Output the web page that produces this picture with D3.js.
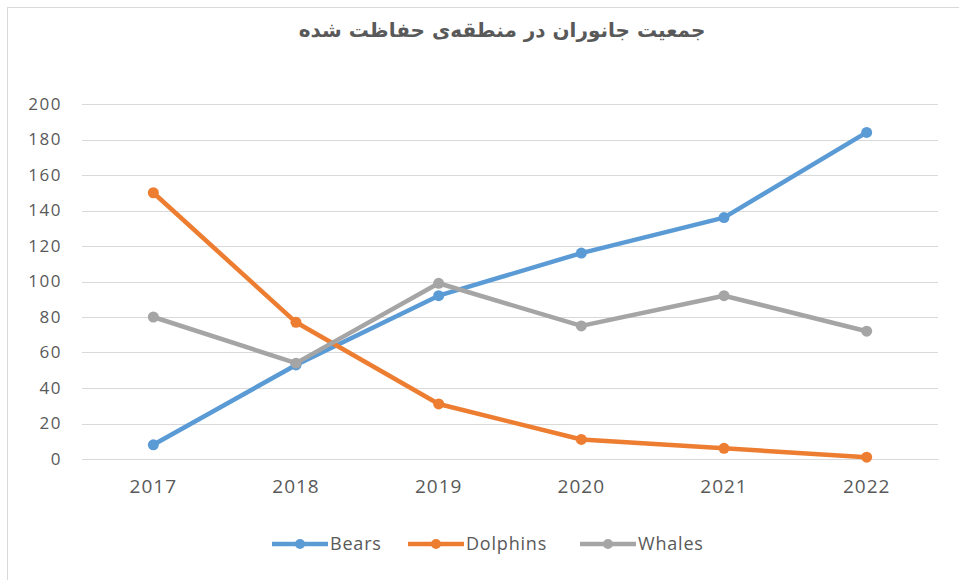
<!DOCTYPE html>
<html>
<head>
<meta charset="utf-8">
<script src="https://cdn.jsdelivr.net/npm/d3@7/dist/d3.min.js"></script>
<style>
  html, body { margin: 0; padding: 0; background: #fff; }
  svg text { font-family: "Open Sans", "Noto Sans", sans-serif; fill: #595959; }
</style>
</head>
<body>
<div id="chart"></div>
<script>
// line chart — animal population in the protected area

var years = ['2017', '2018', '2019', '2020', '2021', '2022'];
var bears = [8, 53, 92, 116, 136, 184];
var dolphins = [150, 77, 31, 11, 6, 1];
var whales = [80, 54, 99, 75, 92, 72];
var yTicks = [0, 20, 40, 60, 80, 100, 120, 140, 160, 180, 200];

var SERIES = [
  { name: 'Bears', values: bears, color: '#5B9BD5' },
  { name: 'Dolphins', values: dolphins, color: '#ED7D31' },
  { name: 'Whales', values: whales, color: '#A5A5A5' }
];

var W = 959, H = 580;
var margin = { top: 104, right: 21, bottom: 121, left: 82 };

var svg = d3.select('#chart').append('svg')
  .attr('width', W)
  .attr('height', H);

// chart frame (only left & top edges are visible in the source)
svg.append('line').attr('x1', 7).attr('y1', 7.5).attr('x2', W).attr('y2', 7.5)
  .attr('stroke', '#d9d9d9').attr('stroke-width', 1);
svg.append('line').attr('x1', 7.5).attr('y1', 7).attr('x2', 7.5).attr('y2', H)
  .attr('stroke', '#d9d9d9').attr('stroke-width', 1);

var x = d3.scaleBand()
  .domain(years)
  .range([margin.left, W - margin.right]);

var y = d3.scaleLinear()
  .domain([0, 200])
  .range([H - margin.bottom, margin.top]);

// gridlines
svg.append('g')
  .selectAll('line')
  .data(yTicks)
  .enter().append('line')
  .attr('x1', margin.left)
  .attr('x2', W - margin.right)
  .attr('y1', function(d){ return Math.round(y(d)) + 0.5; })
  .attr('y2', function(d){ return Math.round(y(d)) + 0.5; })
  .attr('stroke', '#d9d9d9')
  .attr('stroke-width', 1);

// y axis labels
var yAxis = d3.axisLeft(y).tickValues(yTicks).tickSize(0).tickPadding(20);
var yg = svg.append('g')
  .attr('transform', 'translate(' + margin.left + ',0)')
  .call(yAxis);
yg.select('.domain').remove();
yg.selectAll('text')
  .style('font-size', '17px')
  .style('letter-spacing', '1.5px')
  .attr('fill', '#595959');

// x axis labels
var xAxis = d3.axisBottom(x).tickSize(0).tickPadding(21);
var xg = svg.append('g')
  .attr('transform', 'translate(0,' + (H - margin.bottom) + ')')
  .call(xAxis);
xg.select('.domain').attr('stroke', '#d9d9d9');
xg.selectAll('text')
  .style('font-size', '19px')
  .style('letter-spacing', '1px')
  .attr('fill', '#595959');

// lines + markers
var line = d3.line()
  .x(function(d, i){ return x(years[i]) + x.bandwidth() / 2; })
  .y(function(d){ return y(d); });

SERIES.forEach(function(s){
  var g = svg.append('g');
  g.append('path')
    .datum(s.values)
    .attr('d', line)
    .attr('fill', 'none')
    .attr('stroke', s.color)
    .attr('stroke-width', 4.5)
    .attr('stroke-linejoin', 'round')
    .attr('stroke-linecap', 'round');
  g.selectAll('circle')
    .data(s.values)
    .enter().append('circle')
    .attr('cx', function(d, i){ return x(years[i]) + x.bandwidth() / 2; })
    .attr('cy', function(d){ return y(d); })
    .attr('r', 5.5)
    .attr('fill', s.color);
});

// title
svg.append('text')
  .attr('x', 502)
  .attr('y', 37)
  .attr('text-anchor', 'middle')
  .attr('direction', 'rtl')
  .style('font-family', '"DejaVu Sans", sans-serif')
  .style('font-size', '20px')
  .style('font-weight', 'bold')
  .attr('fill', '#404040')
  .text('جمعیت جانوران در منطقه‌ی حفاظت شده');

// legend
var legendX = [272, 408, 580];
var legend = svg.append('g');
SERIES.forEach(function(s, i){
  var lx = legendX[i], ly = 544;
  legend.append('line')
    .attr('x1', lx).attr('x2', lx + 56)
    .attr('y1', ly).attr('y2', ly)
    .attr('stroke', s.color).attr('stroke-width', 4.5);
  legend.append('circle')
    .attr('cx', lx + 28).attr('cy', ly).attr('r', 5)
    .attr('fill', s.color);
  legend.append('text')
    .attr('x', lx + 58).attr('y', ly + 6)
    .style('font-size', '18px')
    .style('letter-spacing', '0.8px')
    .attr('fill', '#595959')
    .text(s.name);
});
</script>
</body>
</html>
